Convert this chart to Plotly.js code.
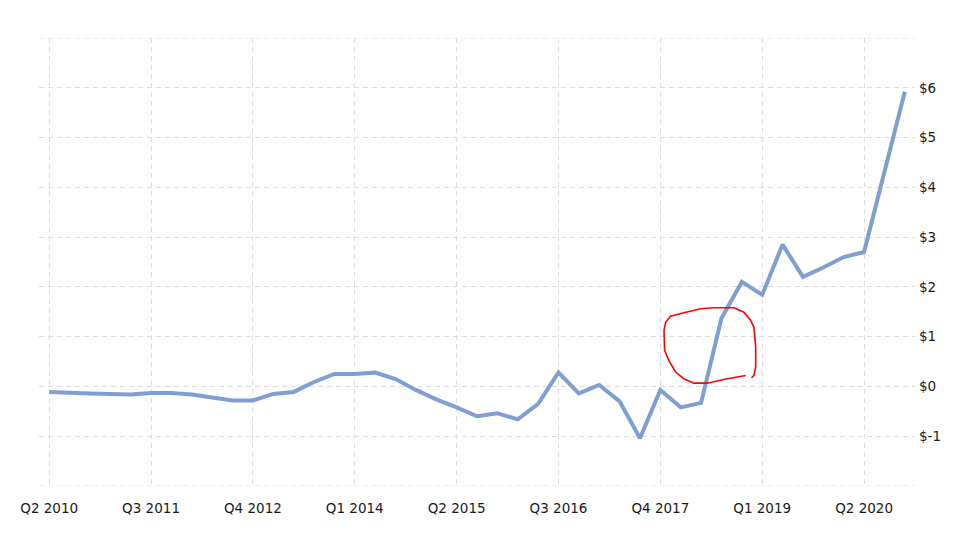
<!DOCTYPE html>
<html>
<head>
<meta charset="utf-8">
<script src="https://cdn.plot.ly/plotly-3.0.1.min.js"></script>
<style>
  html, body { margin: 0; padding: 0; background: #fff; }
  #chart { width: 977px; height: 544px; }
</style>
</head>
<body>
<div id="chart"></div>
<script>
// Quarters (categories)
const quarters = [
  "Q2 2010","Q3 2010","Q4 2010","Q1 2011","Q2 2011","Q3 2011","Q4 2011",
  "Q1 2012","Q2 2012","Q3 2012","Q4 2012","Q1 2013","Q2 2013","Q3 2013",
  "Q4 2013","Q1 2014","Q2 2014","Q3 2014","Q4 2014","Q1 2015","Q2 2015",
  "Q3 2015","Q4 2015","Q1 2016","Q2 2016","Q3 2016","Q4 2016","Q1 2017",
  "Q2 2017","Q3 2017","Q4 2017","Q1 2018","Q2 2018","Q3 2018","Q4 2018",
  "Q1 2019","Q2 2019","Q3 2019","Q4 2019","Q1 2020","Q2 2020","Q3 2020",
  "Q4 2020"
];

// Values (USD)
const values = [
  -0.11, -0.13, -0.14, -0.15, -0.16, -0.13, -0.13,
  -0.16, -0.21, -0.28, -0.28, -0.15, -0.11, 0.09,
  0.25, 0.25, 0.28, 0.15, -0.07, -0.26, -0.42,
  -0.60, -0.54, -0.66, -0.35, 0.28, -0.14, 0.03,
  -0.30, -1.04, -0.07, -0.42, -0.33, 1.37, 2.10,
  1.84, 2.85, 2.20, 2.39, 2.60, 2.70, 4.28,
  5.92
];

// Axis tick labels
const xTickLabels = ["Q2 2010","Q3 2011","Q4 2012","Q1 2014","Q2 2015","Q3 2016","Q4 2017","Q1 2019","Q2 2020"];
const yTickVals = [-2, -1, 0, 1, 2, 3, 4, 5, 6, 7];
const yTickText = ["", "$-1", "$0", "$1", "$2", "$3", "$4", "$5", "$6", ""];
const yEdges = [-2, 7];

// Hand-drawn red scribble (in data coordinates: quarter index, value)
const scribbleX = [34.19, 33.29, 32.30, 31.65, 31.15, 30.75, 30.42, 30.21, 30.18, 30.26, 30.50, 31.15, 31.98, 32.63, 33.61, 34.10, 34.43, 34.59, 34.68, 34.68, 34.59, 34.47];
const scribbleY = [0.22, 0.155, 0.066, 0.066, 0.155, 0.29, 0.52, 0.72, 1.13, 1.29, 1.41, 1.48, 1.56, 1.58, 1.58, 1.49, 1.33, 1.19, 0.79, 0.39, 0.22, 0.175];

const scribblePath = scribbleX.map((x, i) => (i === 0 ? "M" : "L") + x + "," + scribbleY[i]).join(" ");

const trace = {
  x: quarters,
  y: values,
  type: "scatter",
  mode: "lines",
  line: { color: "#7f9ed3", width: 4 },
  hoverinfo: "skip"
};

const font = { family: "DejaVu Sans, Verdana, sans-serif", size: 13.5, color: "#1a1a1a" };
const gridColor = "#dedede";
const gridDash = "5px,4px";

const edgeShapes = yEdges.map(v => ({
  type: "line", xref: "paper", yref: "y",
  x0: 0, x1: 1, y0: v, y1: v,
  line: { color: gridColor, width: 1, dash: gridDash },
  layer: "below"
}));

const layout = {
  width: 977,
  height: 544,
  margin: { l: 39, r: 62, t: 38, b: 58 },
  paper_bgcolor: "#fff",
  plot_bgcolor: "#fff",
  showlegend: false,
  font: font,
  xaxis: {
    type: "category",
    categoryorder: "array",
    categoryarray: quarters,
    range: [-0.5, 42.5],
    tickvals: xTickLabels,
    ticktext: xTickLabels,
    showgrid: true,
    gridcolor: gridColor,
    gridwidth: 1,
    griddash: gridDash,
    zeroline: false,
    showline: false,
    ticks: "",
    ticklabelstandoff: 12,
    tickfont: font,
    fixedrange: true
  },
  yaxis: {
    side: "right",
    range: [-2, 7],
    tickvals: yTickVals,
    ticktext: yTickText,
    showgrid: true,
    gridcolor: gridColor,
    gridwidth: 1,
    griddash: gridDash,
    zeroline: false,
    showline: false,
    ticks: "",
    ticklabelstandoff: 3,
    tickfont: font,
    fixedrange: true
  },
  shapes: edgeShapes.concat([
    {
      type: "line", xref: "paper", yref: "y",
      x0: 0, x1: 1, y0: 0, y1: 0,
      line: { color: "#9a9a9a", width: 1, dash: gridDash },
      layer: "below"
    },
    {
      type: "path", xref: "x", yref: "y",
      path: scribblePath,
      line: { color: "#ff0000", width: 1.6 },
      layer: "above"
    }
  ])
};

Plotly.newPlot("chart", [trace], layout, { displayModeBar: false, staticPlot: true });
</script>
</body>
</html>
